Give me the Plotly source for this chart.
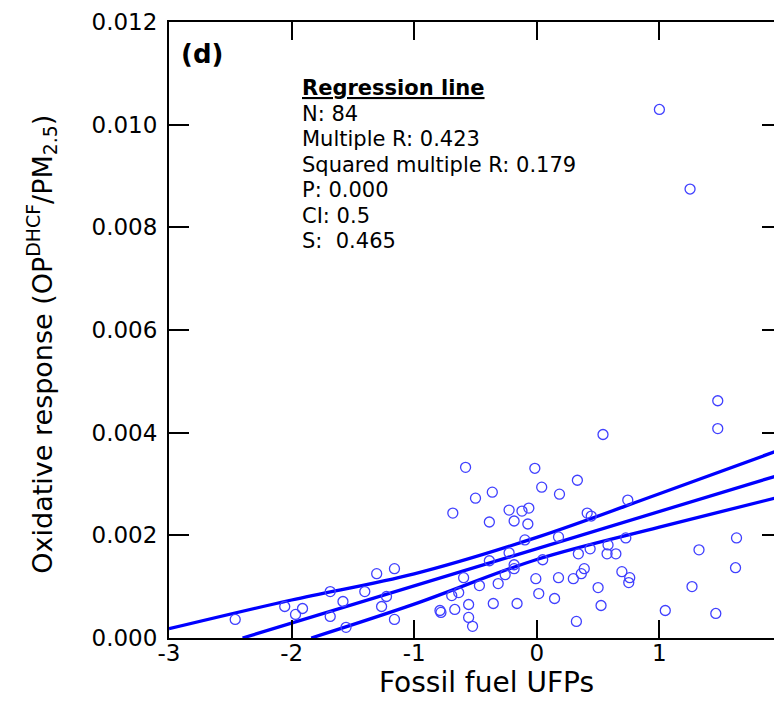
import plotly.graph_objects as go

# Fossil fuel UFP scores vs oxidative response
ufp_x = [
    -2.460, -2.056, -1.968, -1.911, -1.685, -1.685, -1.581, -1.403, -1.556, -1.306,
    -1.161, -1.226, -1.266, -1.161, -0.685, -0.581, -0.500, -0.790, -0.782, -0.669,
    -0.694, -0.637, -0.597, -0.556, -0.556, -0.524, -0.363, -0.387, -0.226, -0.185,
    -0.121, -0.065, -0.073, -0.016, 0.040, 0.185, -0.097, -0.387, -0.226, -0.185,
    -0.185, -0.258, -0.468, -0.315, -0.355, -0.161, -0.008, 0.016, 0.145, 0.177,
    0.048, 0.177, 0.540, 0.331, 0.742, 0.411, 0.444, 0.726, 0.339, 0.435,
    0.581, 0.573, 0.645, 0.387, 0.363, 0.298, 0.694, 0.758, 0.750, 0.500,
    0.524, 0.323, 1.476, 1.476, 1.629, 1.323, 1.621, 1.266, 1.048, 1.460,
    1.000, 1.250,
]
op_y = [
    0.000362, 0.000614, 0.000459, 0.000575, 0.000904, 0.000420, 0.000711, 0.000904, 0.000207, 0.001253,
    0.001350, 0.000808, 0.000614, 0.000362, 0.002434, 0.003325, 0.002724, 0.000536, 0.000498, 0.000556,
    0.000827, 0.000885, 0.001175, 0.000653, 0.000401, 0.000227, 0.002841, 0.002260, 0.002492, 0.002279,
    0.002473, 0.002531, 0.002221, 0.003306, 0.002938, 0.002802, 0.001911, 0.001505, 0.001660, 0.001427,
    0.001350, 0.001234, 0.001021, 0.001060, 0.000672, 0.000672, 0.001156, 0.000866, 0.000769, 0.001175,
    0.001524, 0.001969, 0.003964, 0.003073, 0.002686, 0.002434, 0.002376, 0.001950, 0.001640, 0.001737,
    0.001814, 0.001640, 0.001640, 0.001350, 0.001253, 0.001156, 0.001292, 0.001175, 0.001079, 0.000982,
    0.000633, 0.000323, 0.004622, 0.004080, 0.001950, 0.001718, 0.001369, 0.001001, 0.000536, 0.000478,
    0.010296, 0.008746,
]

# regression line and confidence band
fit_x = [-2.40, 2.0]
fit_y = [0.0, 0.00319]
upper_x = [-3.0, -2.0, -1.0, 0.0, 1.0, 2.0]
upper_y = [0.00018, 0.00074, 0.00125, 0.00196, 0.00281, 0.00368]
lower_x = [-1.84, -1.0, 0.0, 1.0, 2.0]
lower_y = [0.0, 0.00066, 0.00153, 0.00216, 0.00276]

y_ticks = [0.000, 0.002, 0.004, 0.006, 0.008, 0.010, 0.012]
x_ticks = [-3, -2, -1, 0, 1, 2]
x_labels = ["-3", "-2", "-1", "0", "1", "2"]

stats_lines = [
    "<b><u>Regression line</u></b>",
    "N: 84",
    "Multiple R: 0.423",
    "Squared multiple R: 0.179",
    "P: 0.000",
    "CI: 0.5",
    "S:  0.465",
]

FONT = "DejaVu Sans"
BLUE = "#0000ff"

fig = go.Figure()

for bx, by in [(upper_x, upper_y), (fit_x, fit_y), (lower_x, lower_y)]:
    fig.add_trace(go.Scatter(
        x=bx, y=by, mode="lines", line=dict(color=BLUE, width=3.3, shape="spline"),
        showlegend=False, hoverinfo="skip",
    ))

fig.add_trace(go.Scatter(
    x=ufp_x, y=op_y, mode="markers",
    marker=dict(symbol="circle-open", size=10, color="#4040ff", line=dict(width=1.3)),
    showlegend=False,
))

# dummy trace so the right-hand tick marks get drawn
fig.add_trace(go.Scatter(x=[None], y=[None], yaxis="y2", showlegend=False))

# page has an 8px body margin, so margins are shifted by that amount
fig.update_layout(
    width=782, height=717,
    margin=dict(l=161, r=1, t=10, b=87),
    plot_bgcolor="white", paper_bgcolor="white",
    font=dict(family=FONT, color="black"),
    xaxis=dict(
        range=[-3, 2], tickvals=x_ticks, ticktext=x_labels, showgrid=False,
        zeroline=False, showline=True, linecolor="black", linewidth=2, mirror="ticks",
        ticks="inside", ticklen=18, tickwidth=2, tickcolor="black",
        tickfont=dict(size=23), ticklabelstandoff=-7, ticklabeloverflow="allow",
    ),
    yaxis=dict(
        range=[0, 0.012], tickvals=y_ticks, tickformat=".3f", showgrid=False,
        zeroline=False, showline=True, linecolor="black", linewidth=2,
        ticks="inside", ticklen=20, tickwidth=2, tickcolor="black",
        tickfont=dict(size=23), ticklabelstandoff=5, ticklabeloverflow="allow",
    ),
    yaxis2=dict(
        range=[0, 0.012], tickvals=y_ticks, overlaying="y", side="right",
        showgrid=False, zeroline=False, showline=False, showticklabels=False,
        ticks="inside", ticklen=20, tickwidth=2, tickcolor="black",
    ),
)

fig.add_annotation(
    xref="paper", yref="paper", x=0.016, y=0.9485, xanchor="left", yanchor="middle",
    text="<b>(d)</b>", showarrow=False, font=dict(size=26),
)
for i, line in enumerate(stats_lines):
    fig.add_annotation(
        xref="paper", yref="paper", x=0.213, y=0.8925 - i * 0.04145,
        xanchor="left", yanchor="middle", align="left", showarrow=False,
        font=dict(size=21), text=line,
    )
# axis titles placed as annotations to match the original positions
fig.add_annotation(
    xref="paper", yref="paper", x=0.518, y=-0.0715, xanchor="center", yanchor="middle",
    text="Fossil fuel UFPs", showarrow=False, font=dict(size=28),
)
fig.add_annotation(
    xref="paper", yref="paper", x=-0.208, y=0.477, xanchor="center", yanchor="middle",
    textangle=-90, showarrow=False, font=dict(size=27),
    text="Oxidative response (OP<sup>DHCF</sup>/PM<sub>2.5</sub>)",
)

fig.write_html("out.html")
